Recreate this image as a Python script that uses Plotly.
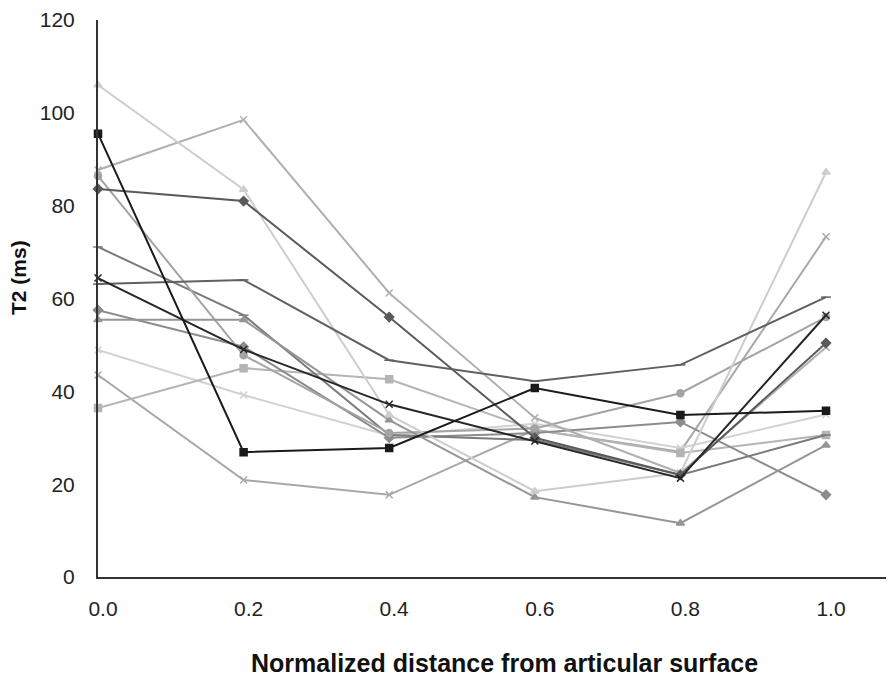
import plotly.graph_objects as go

x_vals = [0.0, 0.2, 0.4, 0.6, 0.8, 1.0]
x_labels = ["0.0", "0.2", "0.4", "0.6", "0.8", "1.0"]
y_ticks = [0, 20, 40, 60, 80, 100, 120]

s_a = [106.0, 83.5, 34.9, 18.5, 22.4, 87.2]
s_b = [95.5, 26.9, 27.8, 40.7, 34.9, 35.8]
s_c = [87.7, 98.5, 61.2, 34.3, 22.4, 49.5]
s_d = [63.1, 64.0, 46.7, 42.2, 45.7, 60.3]
s_e = [64.4, 49.0, 37.2, 29.3, 21.3, 56.4]
s_f = [83.6, 81.0, 56.0, 30.0, 22.0, 50.4]
s_g = [55.4, 55.4, 33.8, 17.2, 11.6, 28.4]
s_h = [86.4, 47.8, 31.0, 32.0, 39.6, 56.0]
s_i = [71.1, 56.4, 30.6, 29.5, 22.0, 30.6]
s_j = [57.5, 49.6, 30.0, 31.0, 33.4, 17.7]
s_k = [36.4, 45.0, 42.6, 31.7, 26.7, 30.6]
s_l = [48.9, 39.2, 30.5, 33.0, 27.8, 35.0]
s_m = [43.5, 20.9, 17.7, 31.7, 27.0, 73.3]

series = [
    (s_m, "#a8a8a8", "x-thin-open"),
    (s_l, "#d2d2d2", "x-thin-open"),
    (s_k, "#b4b4b4", "square"),
    (s_j, "#8c8c8c", "diamond"),
    (s_i, "#7a7a7a", "line-ew-open"),
    (s_h, "#a4a4a4", "circle"),
    (s_g, "#959595", "triangle-up"),
    (s_c, "#b0b0b0", "x-thin-open"),
    (s_a, "#cdcdcd", "triangle-up"),
    (s_f, "#5a5a5a", "diamond"),
    (s_d, "#606060", "line-ew-open"),
    (s_e, "#262626", "x-thin-open"),
    (s_b, "#1a1a1a", "square"),
]

fig = go.Figure()
for vals, col, sym in series:
    fig.add_trace(go.Scatter(
        x=x_vals, y=vals, mode="lines+markers",
        line=dict(color=col, width=2),
        marker=dict(color=col, symbol=sym, size=7,
                    line=dict(color=col, width=1.5)),
        showlegend=False, cliponaxis=False,
    ))

# page body has an 8px default margin; size the figure to fill the window
fig.update_layout(
    width=886, height=669,
    margin=dict(l=90, r=0, t=12, b=100),
    plot_bgcolor="white", paper_bgcolor="white",
    font=dict(family="Liberation Sans, Arial, sans-serif", size=21, color="#222222"),
)
fig.update_xaxes(
    range=[0, 1.0934], tickvals=x_vals, ticktext=x_labels,
    showgrid=False, zeroline=False, automargin=False,
    showline=True, linecolor="#333333", linewidth=2,
    ticks="outside", ticklen=12, tickcolor="rgba(0,0,0,0)",
    ticklabelshift=5,
)
fig.update_yaxes(
    range=[0, 120], tickvals=y_ticks,
    showgrid=False, zeroline=False, automargin=False,
    showline=True, linecolor="#333333", linewidth=2,
    ticks="outside", ticklen=17, tickcolor="rgba(0,0,0,0)",
)
fig.add_annotation(
    text="<b>Normalized distance from articular surface</b>",
    xref="paper", yref="paper", x=0.5113, y=-0.1544,
    xanchor="center", yanchor="middle", showarrow=False,
    font=dict(size=25, color="#111111"),
)
fig.add_annotation(
    text="<b>T2 (ms)</b>",
    xref="paper", yref="paper", x=-0.1005, y=0.5368,
    xanchor="center", yanchor="middle", textangle=-90, showarrow=False,
    font=dict(size=21, color="#111111"),
)

fig.write_html("out.html")
